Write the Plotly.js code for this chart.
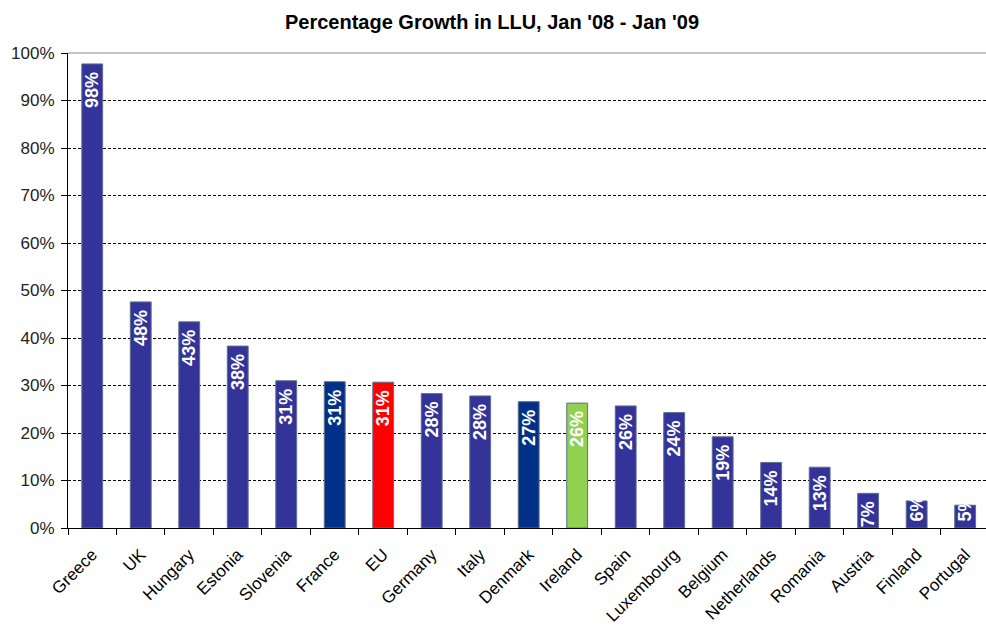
<!DOCTYPE html>
<html>
<head>
<meta charset="utf-8">
<script src="https://cdn.plot.ly/plotly-3.0.1.min.js"></script>
<style>html,body{margin:0;padding:0;background:#fff;}#chart{width:986px;height:628px;}</style>
</head>
<body>
<div id="chart"></div>
<script>
const countries = ["Greece","UK","Hungary","Estonia","Slovenia","France","EU","Germany","Italy","Denmark","Ireland","Spain","Luxembourg","Belgium","Netherlands","Romania","Austria","Finland","Portugal"];
const growth = [0.977,0.476,0.434,0.383,0.310,0.308,0.307,0.283,0.278,0.266,0.263,0.257,0.243,0.192,0.138,0.128,0.073,0.057,0.048];
const barColors = ["#333399","#333399","#333399","#333399","#333399","#003087","#FF0000","#333399","#333399","#003087","#92D050","#333399","#333399","#333399","#333399","#333399","#333399","#333399","#333399"];
const yTicks = [0,0.1,0.2,0.3,0.4,0.5,0.6,0.7,0.8,0.9,1.0];
const yTickText = ["0%","10%","20%","30%","40%","50%","60%","70%","80%","90%","100%"];

// labels that do not fit inside their bar are anchored at the bar base (like the original)
const SMALL = 0.065;

function makeTrace(filterFn, anchor, tmpl) {
  const idx = growth.map((v, i) => i).filter(i => filterFn(growth[i]));
  return {
    type: "bar",
    x: idx.map(i => countries[i]),
    y: idx.map(i => growth[i]),
    width: 0.43,
    marker: {color: idx.map(i => barColors[i]), line: {color: "#5f6f8a", width: 1}},
    texttemplate: tmpl,
    textposition: "inside",
    insidetextanchor: anchor,
    textangle: -90,
    constraintext: "none",
    cliponaxis: false,
    textfont: {family: "Liberation Sans, Arial, sans-serif", size: 18, color: "#ffffff", weight: "bold"},
    hoverinfo: "skip"
  };
}

const traces = [
  makeTrace(v => v >= SMALL, "end", "%{y:.0%}\u00a0"),
  makeTrace(v => v < SMALL, "start", "\u2009%{y:.0%}")
];

const layout = {
  width: 986, height: 628,
  margin: {l: 68, r: 0, t: 53, b: 100},
  paper_bgcolor: "#ffffff", plot_bgcolor: "#ffffff",
  font: {family: "Liberation Sans, Arial, sans-serif", color: "#000"},
  title: {text: "<b>Percentage Growth in LLU, Jan '08 - Jan '09</b>", x: 0.499, xanchor: "center", y: 0.965, yanchor: "middle",
          font: {family: "Liberation Sans, Arial, sans-serif", size: 20, color: "#000"}},
  showlegend: false,
  barmode: "overlay",
  xaxis: {
    type: "category",
    categoryorder: "array", categoryarray: countries,
    range: [-0.5, 18.43],
    showline: true, linecolor: "#000", linewidth: 1,
    ticks: "outside", ticklen: 6, tickcolor: "#000", tickson: "boundaries",
    tickangle: -45,
    ticklabelstandoff: 9,
    tickfont: {size: 17, color: "#000"},
    showgrid: false, zeroline: false,
    fixedrange: true
  },
  yaxis: {
    range: [0, 1.0],
    tickvals: yTicks, ticktext: yTickText,
    showline: true, linecolor: "#000", linewidth: 1,
    ticks: "outside", ticklen: 6, tickcolor: "#000",
    ticklabelstandoff: 3,
    tickfont: {size: 17, color: "#222"},
    showgrid: true, gridcolor: "#000", griddash: "3px,2px", gridwidth: 1,
    zeroline: false,
    fixedrange: true
  },
  shapes: [{type: "line", xref: "paper", yref: "paper", x0: 0, x1: 1, y0: 1, y1: 1, line: {color: "#888", width: 1}}]
};

Plotly.newPlot("chart", traces, layout, {displayModeBar: false, staticPlot: true});
</script>
</body>
</html>
